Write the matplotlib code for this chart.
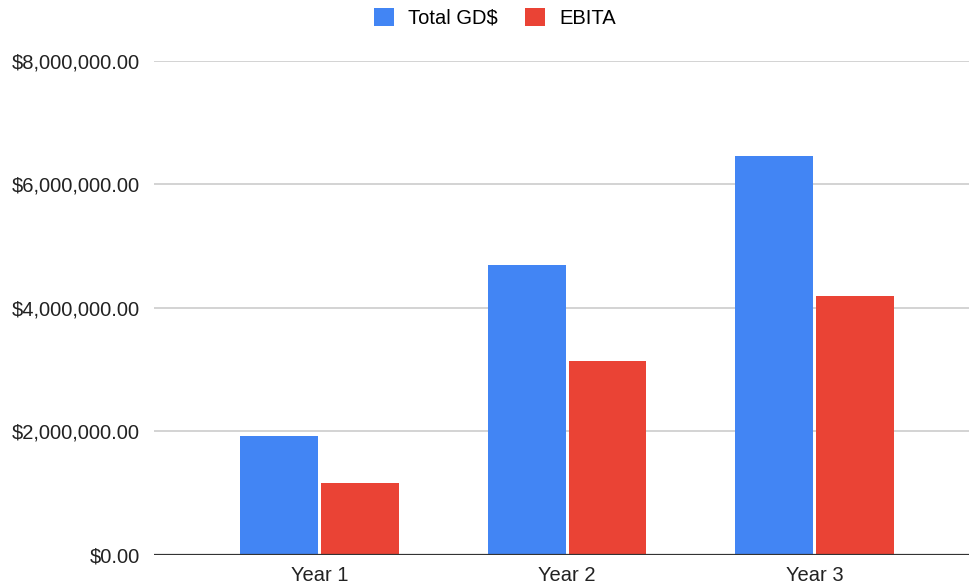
import numpy as np
import matplotlib
matplotlib.use('Agg')
import matplotlib.pyplot as plt
from matplotlib.ticker import FuncFormatter

plt.rcParams['font.family'] = ['Liberation Sans', 'DejaVu Sans']

years = ['Year 1', 'Year 2', 'Year 3']
total_gd = [1918000, 4690000, 6460000]
ebita = [1158000, 3140000, 4190000]

fig = plt.figure(figsize=(9.69, 5.86), dpi=100)
ax = fig.add_axes([153.5 / 969, 31.5 / 586, 1 - 153.5 / 969, (554.5 - 61) / 586])

x = np.arange(len(years))
w = 0.314
off = 0.163
ax.bar(x - off, total_gd, w, color='#4285F4', label='Total GD$', zorder=3)
ax.bar(x + off, ebita, w, color='#EA4335', label='EBITA', zorder=3)

ax.set_xlim(-0.67, 2.623)
ax.set_ylim(0, 8000000)
ax.set_yticks([0, 2000000, 4000000, 6000000, 8000000])
ax.yaxis.set_major_formatter(FuncFormatter(lambda v, p: '${:,.2f}'.format(v)))
ax.set_xticks(x)
ax.set_xticklabels(years)

ax.grid(axis='y', color='#cccccc', linewidth=1.2, zorder=0)
ax.axhline(0, color='#333333', linewidth=1.6, zorder=4)
for s in ax.spines.values():
    s.set_visible(False)
ax.tick_params(axis='both', length=0, labelsize=14.5, colors='#222222')
ax.tick_params(axis='y', pad=9.7)
ax.tick_params(axis='x', pad=8)

fig.legend(loc='center', bbox_to_anchor=(495 / 969, 1 - 18 / 586), ncol=2,
           frameon=False, fontsize=14.5, handlelength=1.0, handleheight=1.0,
           handletextpad=0.7, columnspacing=1.35)

fig.savefig('out.png', dpi=100)
